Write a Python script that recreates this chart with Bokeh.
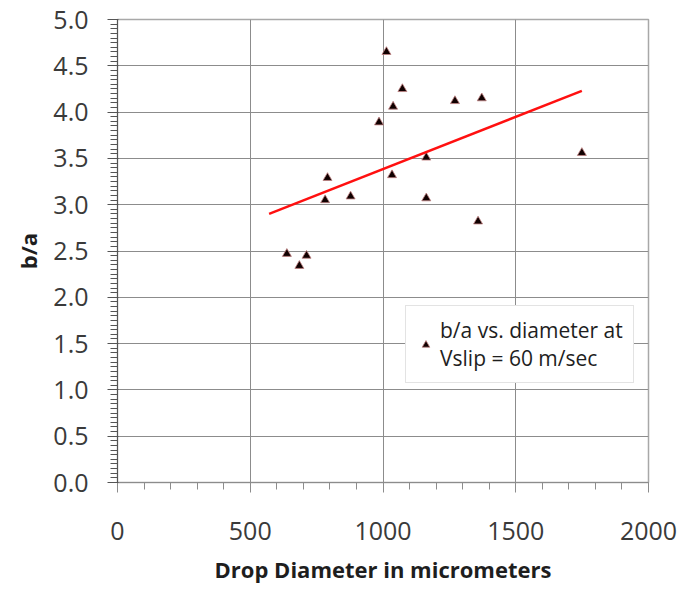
from bokeh.plotting import figure
from bokeh.models import FixedTicker, NumeralTickFormatter, Range1d, Legend, LegendItem, ColumnDataSource
from bokeh.embed import file_html
from bokeh.resources import INLINE

# data
diameter = [1013, 1073, 1038, 1271, 1372, 985, 1163, 1749, 1034, 791, 878, 782, 1163, 1358, 638, 712, 685]
ratio = [4.65, 4.25, 4.06, 4.12, 4.15, 3.89, 3.51, 3.56, 3.32, 3.29, 3.09, 3.05, 3.07, 2.82, 2.47, 2.45, 2.34]
trend_x = [571, 1749]
trend_y = [2.90, 4.23]
x_ticks = [0, 500, 1000, 1500, 2000]
y_ticks = [0.0, 0.5, 1.0, 1.5, 2.0, 2.5, 3.0, 3.5, 4.0, 4.5, 5.0]
legend_label = "b/a vs. diameter at\nVslip = 60 m/sec"

FONT = "Open Sans"

p = figure(frame_width=531, frame_height=463, output_backend="svg", toolbar_location=None,
           x_range=Range1d(0, 2000), y_range=Range1d(0, 5),
           min_border_left=117, min_border_top=19, min_border_right=32, min_border_bottom=10)
p.background_fill_color = "white"
p.border_fill_color = "white"
p.outline_line_color = "#a8a8a8"
p.outline_line_width = 1.5

p.xaxis.ticker = FixedTicker(ticks=x_ticks, minor_ticks=list(range(0, 2001, 100)))
p.yaxis.ticker = FixedTicker(ticks=y_ticks, minor_ticks=[i * 0.05 for i in range(101)])
p.yaxis.formatter = NumeralTickFormatter(format="0.0")

for ax in (p.xaxis[0], p.yaxis[0]):
    ax.major_label_text_font = FONT
    ax.major_label_text_font_size = "25px"
    ax.major_label_text_color = "#3a3a3a"
    ax.axis_label_text_font = FONT
    ax.axis_label_text_font_style = "bold"
    ax.axis_label_text_font_size = "22px"
    ax.axis_label_text_color = "#1e1e1e"

p.xaxis.axis_line_color = "#8c8c8c"
p.xaxis.major_tick_line_color = "#8c8c8c"
p.xaxis.minor_tick_line_color = "#8c8c8c"
p.xaxis.major_tick_out = 10
p.xaxis.major_tick_in = 0
p.xaxis.minor_tick_out = 7
p.xaxis.minor_tick_in = 0
p.xaxis.major_label_standoff = 29
p.xaxis.axis_label = "Drop Diameter in micrometers"
p.xaxis.axis_label_standoff = 11

p.yaxis.axis_line_color = "#555555"
p.yaxis.major_tick_line_color = "#555555"
p.yaxis.minor_tick_line_color = "#555555"
p.yaxis.major_tick_out = 10
p.yaxis.major_tick_in = 1
p.yaxis.minor_tick_out = 7
p.yaxis.minor_tick_in = 0
p.yaxis.major_label_standoff = 19
p.yaxis.axis_label = "b/a"
p.yaxis.axis_label_standoff = 7

p.xgrid.grid_line_color = "#8c8c8c"
p.ygrid.grid_line_color = "#8c8c8c"
p.xgrid.grid_line_width = 1
p.ygrid.grid_line_width = 1

src = ColumnDataSource(dict(x=diameter, y=ratio))
pts = p.scatter("x", "y", source=src, marker="triangle", size=9,
                fill_color="#100000", line_color="#c08080", line_width=0.8)
p.line(trend_x, trend_y, line_color="#ff1010", line_width=2.5)

legend = Legend(items=[LegendItem(label=legend_label, renderers=[pts])],
                location=(288, 99), orientation="vertical")
legend.label_text_font = FONT
legend.label_text_font_size = "21px"
legend.label_text_color = "#1e1e1e"
legend.label_text_line_height = 1.25
legend.border_line_color = "#c8c8c8"
legend.border_line_width = 1.5
legend.background_fill_alpha = 1
legend.glyph_width = 19
legend.glyph_height = 19
legend.padding = 10
legend.margin = 0
legend.label_standoff = 5
p.add_layout(legend, "center")

open("out.html", "w").write(file_html(p, INLINE))
